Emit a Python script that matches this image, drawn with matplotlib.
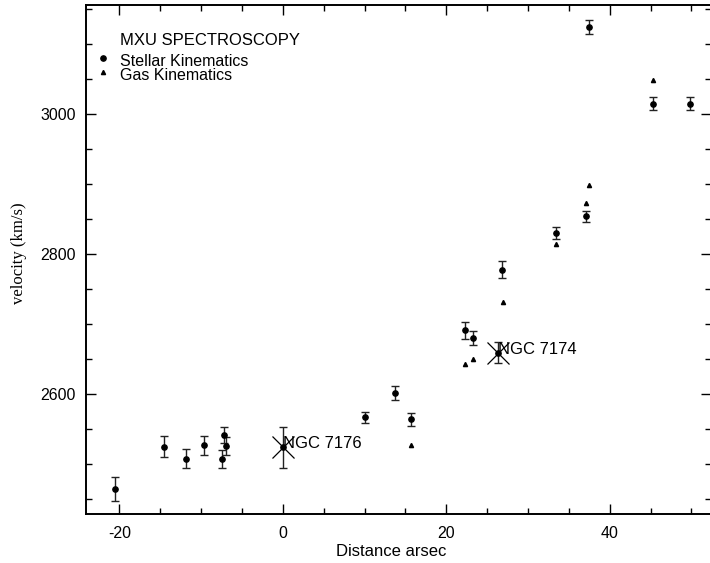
import matplotlib
matplotlib.use("Agg")
import matplotlib.pyplot as plt
from matplotlib.ticker import MultipleLocator

plt.rcParams['font.family'] = ['Liberation Sans', 'DejaVu Sans']
plt.rcParams['axes.unicode_minus'] = False

# Stellar kinematics: position (arcsec), velocity (km/s), error (km/s)
stellar_x = [-20.6, -14.6, -11.8, -9.6, -7.2, -7.4, -7.0, 0.0, 10.0,
             13.7, 15.7, 22.3, 23.3, 26.3, 26.8, 33.4, 37.1, 37.5, 45.3, 49.8]
stellar_v = [2465, 2525, 2508, 2527, 2542, 2507, 2526, 2524, 2567,
             2602, 2564, 2691, 2680, 2659, 2778, 2830, 2854, 3124, 3015, 3015]
stellar_err = [17, 15, 14, 14, 11, 13, 13, 29, 8,
               10, 9, 12, 10, 15, 12, 9, 8, 10, 9, 9]

# Gas kinematics
gas_x = [15.7, 22.3, 23.3, 26.9, 33.4, 37.1, 37.5, 45.3]
gas_v = [2528, 2643, 2650, 2732, 2814, 2873, 2898, 3048]

# Galaxy centres
galaxy_names = ["NGC 7176", "NGC 7174"]
galaxy_x = [0.0, 26.3]
galaxy_v = [2524, 2659]

W, H = 710, 563
fig = plt.figure(figsize=(W / 100, H / 100), dpi=100)
left, right, top, bottom = 85.5, 711.0, 5.0, 514.0
ax = fig.add_axes([left / W, (H - bottom) / H, (right - left) / W, (bottom - top) / H])

ax.errorbar(stellar_x, stellar_v, yerr=stellar_err, fmt='o', color='black',
            markersize=3.8, ecolor='#222222', elinewidth=1.0, capsize=3, capthick=1.0)
ax.plot(gas_x, gas_v, '^', color='black', markersize=3.0, linestyle='none')
ax.plot(galaxy_x, galaxy_v, 'x', color='black', markersize=16, markeredgewidth=0.9,
        linestyle='none')
for name, gx, gv in zip(galaxy_names, galaxy_x, galaxy_v):
    ax.text(gx, gv + 5, name, fontsize=12, ha='left', va='center')

ax.set_xlim(-24.15, 52.4)
ax.set_ylim(2429, 3155.7)

ax.xaxis.set_major_locator(MultipleLocator(20))
ax.xaxis.set_minor_locator(MultipleLocator(5))
ax.yaxis.set_major_locator(MultipleLocator(200))
ax.yaxis.set_minor_locator(MultipleLocator(50))
ax.tick_params(which='both', direction='in', top=True, right=True,
               width=1.0, labelsize=11.5)
ax.tick_params(which='major', length=7)
ax.tick_params(which='minor', length=4)
ax.tick_params(axis='x', pad=9)
ax.tick_params(axis='y', pad=7)
for s in ax.spines.values():
    s.set_linewidth(1.4)

ax.set_xlabel("Distance arsec", fontsize=12)
ax.xaxis.set_label_coords(0.488, -0.073)
ax.xaxis.label.set_va('center')
ax.set_ylabel("velocity (km/s)", fontsize=12, family=['Liberation Serif', 'DejaVu Serif'])
ax.yaxis.set_label_coords(-0.106, 0.513)
ax.yaxis.label.set_va('center')

# Key drawn inside the axes
ax.text(0.0552, 0.931, "MXU SPECTROSCOPY", transform=ax.transAxes, fontsize=12,
        ha='left', va='center')
ax.plot([0.028], [0.896], 'o', color='black', markersize=3.8, transform=ax.transAxes,
        clip_on=False)
ax.text(0.0552, 0.8906, "Stellar Kinematics", transform=ax.transAxes, fontsize=11.5,
        ha='left', va='baseline', position=(0.0552, (514 - 65.5) / 509))
ax.plot([0.028], [0.868], '^', color='black', markersize=3.0, transform=ax.transAxes,
        clip_on=False)
ax.text(0.0552, 0.8644, "Gas Kinematics", transform=ax.transAxes, fontsize=11.5,
        ha='left', va='top', position=(0.0552, (514 - 68.5) / 509))

fig.savefig("out.png", dpi=100)
